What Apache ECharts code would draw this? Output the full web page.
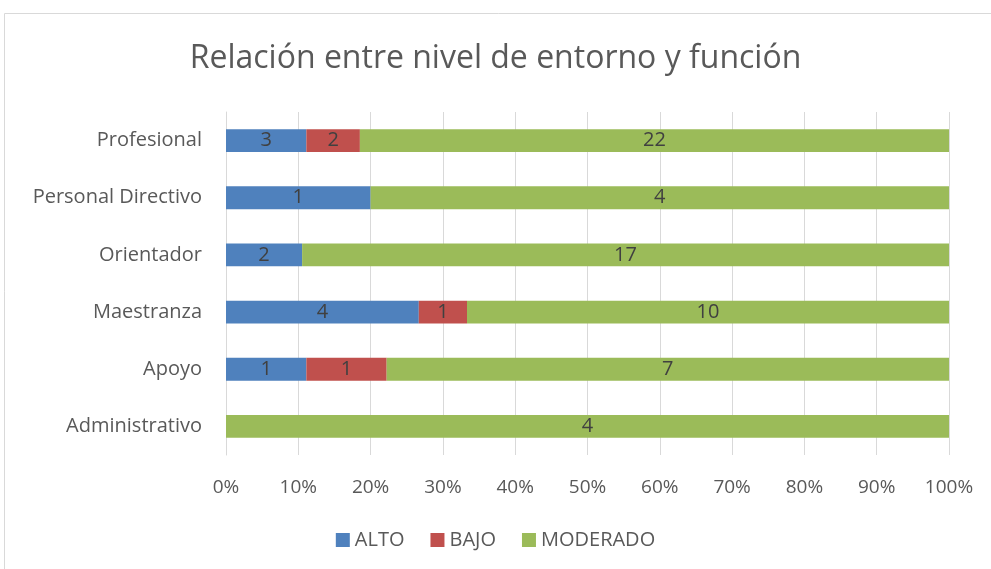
<!DOCTYPE html>
<html>
<head>
<meta charset="utf-8">
<script src="https://cdn.jsdelivr.net/npm/echarts@6/dist/echarts.min.js"></script>
<style>
  html, body { margin: 0; padding: 0; background: #fff; }
  #chart { width: 991px; height: 569px; }
</style>
</head>
<body>
<div id="chart"></div>
<script>
// categories bottom to top, as the chart shows them
var categories = ['Administrativo', 'Apoyo', 'Maestranza', 'Orientador', 'Personal Directivo', 'Profesional'];
var alto = [0, 1, 4, 2, 1, 3];
var bajo = [0, 1, 1, 0, 0, 2];
var moderado = [4, 7, 10, 17, 4, 22];
var xTicks = [0, 10, 20, 30, 40, 50, 60, 70, 80, 90, 100];

var totals = categories.map(function (c, i) { return alto[i] + bajo[i] + moderado[i]; });
function toPct(arr) {
    return arr.map(function (v, i) { return { value: v / totals[i] * 100, count: v }; });
}

var font = '"Open Sans", sans-serif';
var labelOpt = {
    show: true,
    position: 'inside',
    color: '#404040',
    fontSize: 20,
    fontFamily: font,
    formatter: function (p) { return p.data.count ? p.data.count : ''; }
};

function makeSeries(name, arr, color) {
    return {
        name: name,
        type: 'bar',
        stack: 'total',
        barWidth: '40%',
        data: toPct(arr),
        itemStyle: { color: color },
        label: labelOpt,
        emphasis: { disabled: true }
    };
}

var myChart = echarts.init(document.getElementById('chart'));
myChart.setOption({
    animation: false,
    textStyle: { fontFamily: font },
    graphic: [{
        type: 'rect',
        shape: { x: 4.5, y: 13.5, width: 1200, height: 800 },
        style: { fill: 'none', stroke: '#d9d9d9', lineWidth: 1 },
        silent: true
    }],
    title: {
        text: 'Relación entre nivel de entorno y función',
        left: 'center',
        top: 38,
        textStyle: { color: '#595959', fontSize: 32, fontWeight: 'normal', fontFamily: font }
    },
    legend: {
        bottom: 14,
        left: 'center',
        itemWidth: 14,
        itemHeight: 14,
        itemGap: 26,
        icon: 'rect',
        textStyle: { color: '#595959', fontSize: 20, fontFamily: font },
        data: ['ALTO', 'BAJO', 'MODERADO']
    },
    grid: { left: 226, right: 42, top: 112, bottom: 114, containLabel: false },
    xAxis: {
        type: 'value',
        min: 0,
        max: 100,
        interval: 10,
        axisLine: { show: false },
        axisTick: { show: false },
        splitLine: { lineStyle: { color: '#d9d9d9', width: 1 } },
        axisLabel: {
            color: '#595959', fontSize: 19, margin: 23, fontFamily: font,
            formatter: function (v) { return xTicks.indexOf(v) >= 0 ? v + '%' : ''; }
        }
    },
    yAxis: {
        type: 'category',
        data: categories,
        axisLine: { show: true, lineStyle: { color: '#d9d9d9' } },
        axisTick: { show: false },
        axisLabel: { color: '#595959', fontSize: 20, margin: 24, fontFamily: font }
    },
    series: [
        makeSeries('ALTO', alto, '#4f81bd'),
        makeSeries('BAJO', bajo, '#c0504d'),
        makeSeries('MODERADO', moderado, '#9bbb59')
    ]
});
</script>
</body>
</html>
